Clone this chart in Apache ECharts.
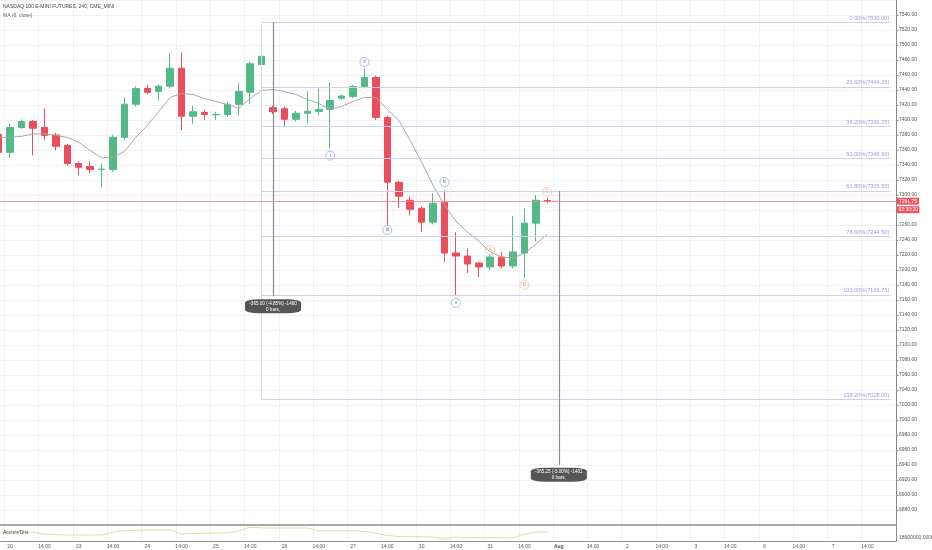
<!DOCTYPE html>
<html lang="en">
<head>
<meta charset="UTF-8">
<title>NASDAQ 100 E-MINI FUTURES, 240</title>
<script src="https://cdn.jsdelivr.net/npm/echarts@6/dist/echarts.min.js"></script>
<style>
    html, body { margin: 0; padding: 0; background: #fff; }
    #chart { width: 932px; height: 550px; }
</style>
</head>
<body>
<div id="chart"></div>
<script>
// time axis: first bar of each session gets the day label, 14:00 bar gets its time
var dayLabels = ['20', '23', '24', '25', '26', '27', '30', '31', 'Aug', '2', '3', '6', '7'];
var barHours = ['02:00', '06:00', '10:00', '14:00', '18:00', '22:00'];

// 4h candles, the first one is the 22:00 bar of the 19th (cut by the left edge)
var opens  = [7381, 7357, 7390, 7398, 7390, 7380, 7366, 7342, 7338, 7334, 7334, 7377, 7421, 7442, 7438, 7445, 7469,
              7405, 7410, 7407, 7407.5, 7421, 7437, 7474, 7416.5, 7415, 7401, 7409, 7411.5, 7414, 7429, 7431.5, 7444.7,
              7456.7, 7403.5, 7317, 7293, 7282.4, 7263.8, 7290.4, 7222.6, 7218.6, 7209.3, 7204, 7217.3, 7205.3, 7222.6, 7262.5, 7292.5];
var closes = [7357, 7390, 7398, 7389, 7379.5, 7365, 7342, 7337, 7334, 7334.5, 7377, 7421, 7442, 7437, 7445, 7469, 7405,
              7411, 7407.5, 7407.5, 7421, 7438, 7475, 7485, 7411, 7401, 7409, 7411.5, 7414, 7426, 7432, 7444.7, 7456.7,
              7403.5, 7317, 7298.4, 7281, 7263.8, 7289, 7222.6, 7218.6, 7208, 7204, 7217.3, 7205.3, 7224, 7262.5, 7293, 7291.75];
var lows   = [7352, 7350, 7388, 7353, 7373, 7359.5, 7339, 7326, 7329, 7310, 7331, 7374, 7418, 7434, 7426, 7442, 7386,
              7395, 7400, 7400, 7404, 7406, 7422, 7463, 7408, 7391.5, 7398, 7395, 7406, 7362, 7427, 7429, 7442,
              7400, 7260, 7282.4, 7273, 7250.5, 7261, 7210.6, 7166.75, 7196, 7190.7, 7200, 7202, 7202, 7189.4, 7238, 7289];
var highs  = [7389, 7395.5, 7401, 7400, 7415, 7383, 7368, 7345, 7345, 7342, 7380, 7430, 7445, 7447, 7447, 7489, 7490,
              7419, 7414, 7411, 7424, 7449, 7478, 7488, 7419, 7418, 7412, 7438, 7442, 7450, 7434, 7447, 7468.6,
              7459, 7406, 7319, 7298, 7285, 7302.4, 7306.4, 7250.5, 7229, 7211, 7221, 7224, 7271.8, 7282, 7300, 7296];

// MA (6, close) as drawn on the chart
var maValues = [7376.9, 7376.9, 7378.2, 7381.5, 7381.5, 7379.5, 7376.9, 7370.2, 7359.6, 7349.6, 7350.3, 7358.2, 7376.9,
                7392.8, 7411.4, 7430.1, 7435.4, 7434.0, 7428.7, 7424.7, 7420.7, 7415.4, 7428.7, 7439.4, 7440.7, 7438.0,
                7434.0, 7427.4, 7422.1, 7414.1, 7418.1, 7424.7, 7430.1, 7430.1, 7414.0, 7399.5, 7372.9, 7343.6, 7313.0,
                7286.4, 7265.2, 7250.5, 7238.6, 7224.0, 7217.3, 7216.0, 7222.6, 7234.6, 7247.9];

// Accum/Dist pane
var adValues = [18960000, 18960000, 18960000, 18942000, 18840000, 18798000, 18780000, 18780000, 18780000, 18780000,
                18960000, 19038000, 19062000, 19080000, 19080000, 19080000, 18840000, 18870000, 18882000, 18900000,
                18900000, 19020000, 19260000, 19200000, 19200000, 19200000, 19200000, 19200000, 19020000, 19038000,
                19038000, 19038000, 18990000, 18900000, 18750000, 18690000, 18678000, 18678000, 18660000, 18540000,
                18660000, 18618000, 18618000, 18618000, 18618000, 18600000, 18840000, 18960000, 18960000];

// fib retracement drawn from the bar of the 26th 18:00
var fibStartBar = 22;
var fibLevels = [0, 23.6, 38.2, 50, 61.8, 78.6, 100, 138.2];
var fibPrices = [7530.00, 7444.25, 7391.25, 7348.50, 7305.50, 7244.50, 7166.75, 7028.00];

// elliott wave labels
var waveLabels = ['i', 'ii', 'iii', 'iv', 'v'];
var waveBars = [28, 31, 33, 38, 39];
var wavePrices = [7352.5, 7477.3, 7253.3, 7317.3, 7156];
var abcLabels = ['A', 'B', 'C'];
var abcBars = [42, 45, 47];
var abcPrices = [7226.7, 7180, 7304];

// price range measures
var measureBars = [23, 48];
var measureFrom = [7530, 7305.5];
var measureTo = [7165, 6940.25];
var measureText = ['-365.00 (-4.85%) -1460\n0 bars,', '-365.25 (-5.00%) -1461\n0 bars,'];

var lastPrice = 7291.75;
var countdown = '03:30:20';

/** categories, bar -1 first */
var categories = ['19|22:00'];
dayLabels.forEach(function (d) {
    barHours.forEach(function (h) { categories.push(d + '|' + h); });
});
function cat(bar) { return bar + 1; }

function showTick(index, value) {
    var h = String(value).split('|')[1];
    return index > 0 && (h === '02:00' || h === '14:00');
}

var candleData = opens.map(function (o, i) { return [o, closes[i], lows[i], highs[i]]; });

var fibLines = fibPrices.map(function (p, i) {
    return [
        {coord: [cat(fibStartBar), p], label: {formatter: fibLevels[i].toFixed(2) + '%(' + p.toFixed(2) + ')'}},
        {coord: [categories.length - 1, p]}
    ];
});
// left edge of the fib tool
fibLines.push([
    {coord: [cat(fibStartBar), fibPrices[0]], lineStyle: {color: '#dcdce6'}, label: {show: false}},
    {coord: [cat(fibStartBar), fibPrices[fibPrices.length - 1]]}
]);

var annoLines = measureBars.map(function (b, i) {
    return [{coord: [cat(b), measureFrom[i]]}, {coord: [cat(b), measureTo[i]]}];
});

var measureBoxes = measureBars.map(function (b, i) {
    return {
        coord: [cat(b), measureTo[i]],
        symbol: 'roundRect', symbolSize: [56, 14], symbolOffset: [0, 10],
        itemStyle: {color: 'rgba(70,70,70,0.92)'},
        label: {show: true, position: 'inside', formatter: measureText[i], color: '#fff', fontSize: 4.6, lineHeight: 6}
    };
});

function labelPoints(names, bars, prices) {
    return names.map(function (n, i) { return {name: n, value: [cat(bars[i]), prices[i]]}; });
}

var font = 'Liberation Sans, Arial, sans-serif';
var gridLine = {show: true, lineStyle: {color: '#f1f1f5', width: 1}};

var myChart = echarts.init(document.getElementById('chart'));
var option = {
    animation: false,
    backgroundColor: '#fff',
    textStyle: {fontFamily: font},
    title: [
        {text: 'NASDAQ 100 E-MINI FUTURES, 240, CME_MINI', left: 3, top: 4.5, padding: 0,
            textStyle: {fontSize: 5, fontWeight: 'normal', color: '#444', fontFamily: font}},
        {text: 'MA (6, close)', left: 3, top: 13.5, padding: 0,
            textStyle: {fontSize: 5, fontWeight: 'normal', color: '#666', fontFamily: font}},
        {text: 'Accum/Dist', left: 3, top: 530.5, padding: 0,
            textStyle: {fontSize: 5, fontWeight: 'normal', color: '#555', fontFamily: font}}
    ],
    grid: [
        {left: -7, right: 36, top: 0, height: 525, outerBoundsMode: 'none', containLabel: false},
        {left: -7, right: 36, top: 526, height: 15, outerBoundsMode: 'none', containLabel: false}
    ],
    xAxis: [
        {
            type: 'category', gridIndex: 0, data: categories, boundaryGap: true,
            axisLine: {show: true, lineStyle: {color: '#8f8f8f', width: 1.5}},
            axisTick: {show: false}, axisLabel: {show: false},
            splitLine: {show: true, interval: showTick, lineStyle: {color: '#f1f1f5'}}
        },
        {
            type: 'category', gridIndex: 1, data: categories, boundaryGap: true,
            axisLine: {show: true, lineStyle: {color: '#8f8f8f', width: 1}},
            axisTick: {show: false},
            axisLabel: {
                show: true, interval: showTick, fontSize: 5, color: '#555', margin: 3,
                formatter: function (value) {
                    var parts = value.split('|');
                    if (parts[1] === '14:00') return '14:00';
                    return parts[0] === 'Aug' ? '{b|Aug}' : parts[0];
                },
                rich: {b: {fontSize: 5, fontWeight: 'bold', color: '#555'}}
            },
            splitLine: {show: true, interval: showTick, lineStyle: {color: '#f1f1f5'}}
        }
    ],
    yAxis: [
        {
            type: 'value', gridIndex: 0, position: 'right', min: 6860, max: 7560, interval: 20,
            axisLine: {show: true, lineStyle: {color: '#8a8a8a'}},
            axisTick: {show: true, length: 2.5, lineStyle: {color: '#8a8a8a'}},
            axisLabel: {fontSize: 5, color: '#555', margin: 3, showMinLabel: false, showMaxLabel: false,
                formatter: function (v) { return v.toFixed(2); }},
            splitLine: gridLine
        },
        {
            type: 'value', gridIndex: 1, position: 'right', min: 18420000, max: 19320000, interval: 60000,
            axisLine: {show: true, lineStyle: {color: '#8a8a8a'}},
            axisTick: {show: false},
            axisLabel: {fontSize: 5, color: '#555', margin: 3, showMinLabel: false, showMaxLabel: false,
                formatter: function (v) { return v === 18600000 ? '18600000.0000' : ''; }},
            splitLine: {show: false}
        }
    ],
    series: [
        {
            name: 'NQ', type: 'candlestick', xAxisIndex: 0, yAxisIndex: 0, data: candleData,
            barWidth: 7, silent: true,
            itemStyle: {color: '#53b987', color0: '#eb4d5c', borderColor: '#53b987', borderColor0: '#eb4d5c', borderWidth: 1},
            markLine: {
                silent: true, symbol: ['none', 'none'], animation: false,
                lineStyle: {color: '#cfd0ec', width: 1, type: 'solid'},
                label: {show: true, position: 'insideEndTop', distance: 1, fontSize: 5.6, color: '#9a9ce6'},
                data: fibLines
            }
        },
        {
            name: 'MA (6, close)', type: 'line', xAxisIndex: 0, yAxisIndex: 0, data: maValues,
            showSymbol: false, silent: true, lineStyle: {color: '#a8a8a8', width: 1},
            markLine: {
                silent: true, symbol: ['none', 'none'], animation: false,
                lineStyle: {color: '#8c8c8c', width: 1.2, type: 'solid'},
                label: {show: false},
                data: annoLines
            },
            markPoint: {silent: true, animation: false, data: measureBoxes}
        },
        {
            // last price line with its axis tag and the bar countdown below it
            name: 'last', type: 'line', xAxisIndex: 0, yAxisIndex: 0, data: [], silent: true,
            itemStyle: {color: '#f47d88'}, lineStyle: {color: '#f47d88'},
            markLine: {
                silent: true, symbol: ['none', 'none'], animation: false,
                lineStyle: {color: '#f47d88', width: 0.8, type: 'solid', opacity: 1},
                label: {
                    show: true, position: 'end', distance: 1,
                    formatter: '{e| }\n{a|' + lastPrice.toFixed(2) + '}\n{b|' + countdown + '}',
                    rich: {
                        e: {fontSize: 5, lineHeight: 8.5},
                        a: {backgroundColor: '#f0525f', color: '#fff', fontSize: 5, lineHeight: 8.5, padding: [1, 2, 1, 2]},
                        b: {backgroundColor: '#f0525f', color: '#fff', fontSize: 5, lineHeight: 8.5, padding: [1, 1.5, 1, 1.5]}
                    }
                },
                data: [{yAxis: lastPrice}]
            }
        },
        {
            name: 'waves', type: 'scatter', xAxisIndex: 0, yAxisIndex: 0, silent: true,
            data: labelPoints(waveLabels, waveBars, wavePrices),
            symbol: 'circle', symbolSize: 9,
            itemStyle: {color: '#fff', borderColor: '#7f97e0', borderWidth: 0.8},
            label: {show: true, position: 'inside', formatter: '{b}', fontSize: 5, color: '#2d4a9e'}
        },
        {
            name: 'abc', type: 'scatter', xAxisIndex: 0, yAxisIndex: 0, silent: true,
            data: labelPoints(abcLabels, abcBars, abcPrices),
            symbol: 'circle', symbolSize: 9,
            itemStyle: {color: '#fff', borderColor: '#f3b07a', borderWidth: 0.8},
            label: {show: true, position: 'inside', formatter: '{b}', fontSize: 5, color: '#e8914a'}
        },
        {
            name: 'Accum/Dist', type: 'line', xAxisIndex: 1, yAxisIndex: 1, data: adValues,
            showSymbol: false, silent: true, lineStyle: {color: '#e6d9a2', width: 1}
        }
    ]
};
myChart.setOption(option);
</script>
</body>
</html>
